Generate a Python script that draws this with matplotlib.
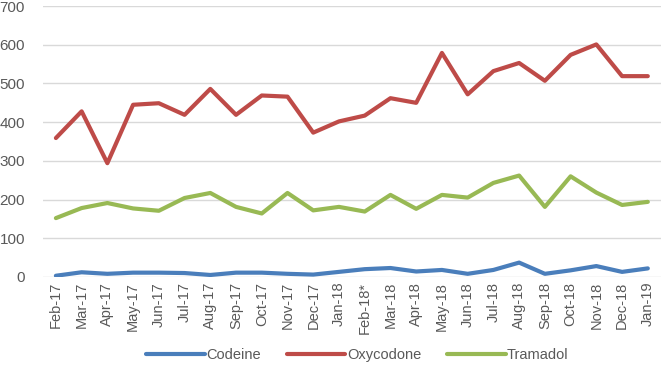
import numpy as np
import matplotlib.pyplot as plt

months = ['Feb-17', 'Mar-17', 'Apr-17', 'May-17', 'Jun-17', 'Jul-17', 'Aug-17',
          'Sep-17', 'Oct-17', 'Nov-17', 'Dec-17', 'Jan-18', 'Feb-18*', 'Mar-18',
          'Apr-18', 'May-18', 'Jun-18', 'Jul-18', 'Aug-18', 'Sep-18', 'Oct-18',
          'Nov-18', 'Dec-18', 'Jan-19']
codeine = [3, 12, 8, 11, 11, 10, 5, 11, 11, 8, 6, 13,
           20, 23, 14, 18, 8, 18, 37, 8, 17, 28, 13, 22]
oxycodone = [359, 428, 294, 445, 449, 419, 486, 419, 469, 466, 373, 402,
             417, 462, 450, 579, 472, 532, 553, 507, 574, 601, 519, 519]
tramadol = [152, 178, 191, 177, 171, 204, 217, 181, 164, 217, 172, 181,
            169, 212, 176, 212, 205, 243, 262, 181, 260, 218, 186, 194]

plt.rcParams['font.family'] = ['Liberation Sans', 'DejaVu Sans']

fig = plt.figure(figsize=(6.62, 3.83), dpi=100)
ax = fig.add_axes([0.065, 0.277, 0.933, 0.707])

x = np.arange(len(months))
ax.plot(x, codeine, color='#4A7EBB', lw=3, label='Codeine', solid_capstyle='round')
ax.plot(x, oxycodone, color='#BE4B48', lw=3, label='Oxycodone', solid_capstyle='round')
ax.plot(x, tramadol, color='#98B954', lw=3, label='Tramadol', solid_capstyle='round')

ax.set_ylim(0, 700)
ax.set_yticks(range(0, 701, 100))
ax.set_xlim(-0.5, len(months) - 0.5)
ax.set_xticks(x)
ax.set_xticklabels(months, rotation=90)
ax.tick_params(colors='#595959', labelsize=10.5, length=0)
ax.tick_params(axis='y', labelsize=11, pad=13)
ax.grid(axis='y', color='#D9D9D9', lw=1)
ax.set_axisbelow(True)
for s in ax.spines.values():
    s.set_visible(False)

fig.legend(loc='center', bbox_to_anchor=(0.54, 0.072), ncol=3, frameon=False,
           fontsize=10.5, handlelength=4, handletextpad=0.1, columnspacing=1.8,
           labelcolor='#595959')

plt.savefig('out.png', dpi=100)
